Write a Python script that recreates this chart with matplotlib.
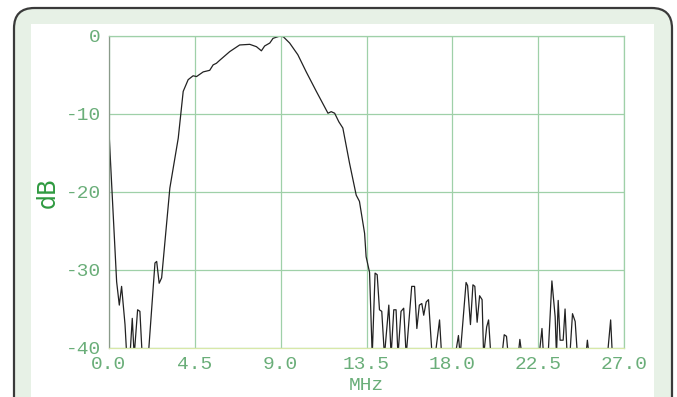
import numpy as np
import matplotlib
matplotlib.use('Agg')
import matplotlib.pyplot as plt
from matplotlib.patches import FancyBboxPatch, Rectangle

# spectrum (MHz, dB); values below -40 are clipped by the axes
freq = [0.0, 0.16, 0.4, 0.54, 0.66, 0.84, 0.93, 1.1, 1.22, 1.32, 1.5, 1.62, 1.74,
        2.06, 2.41, 2.5, 2.63, 2.76, 3.19, 3.63, 3.89, 4.15, 4.41, 4.59, 4.94,
        5.28, 5.46, 5.63, 5.81, 6.33, 6.85, 7.38, 7.73, 7.99, 8.16, 8.43, 8.6,
        8.96, 9.14, 9.47, 9.9, 10.34, 10.87, 11.48, 11.65, 11.83, 12.05, 12.26,
        12.61, 12.96, 13.13, 13.4, 13.48, 13.66, 13.8, 13.95, 14.06, 14.18, 14.3,
        14.44, 14.67, 14.79, 14.93, 15.05, 15.15, 15.31, 15.45, 15.58, 15.87,
        16.02, 16.14, 16.27, 16.4, 16.5, 16.63, 16.75, 16.94, 17.1, 17.33, 17.44,
        18.15, 18.32, 18.41, 18.72, 18.8, 18.95, 19.08, 19.18, 19.3, 19.43, 19.56,
        19.64, 19.8, 19.9, 20.02, 20.6, 20.72, 20.84, 20.93, 21.45, 21.54, 21.65,
        22.55, 22.7, 22.78, 23.02, 23.22, 23.39, 23.46, 23.55, 23.65, 23.81, 23.91,
        24.02, 24.16, 24.3, 24.44, 24.56, 25.0, 25.08, 25.17, 26.13, 26.3, 26.39]
level = [-12.3, -20.0, -31.5, -34.5, -32.1, -37.0, -41, -41, -36.2, -41, -35.1, -35.3, -41,
         -41, -29.1, -28.9, -31.7, -31.0, -19.5, -13.1, -7.1, -5.6, -5.1, -5.2, -4.6,
         -4.4, -3.7, -3.5, -3.1, -2.0, -1.15, -1.07, -1.37, -1.9, -1.28, -0.9, -0.3,
         0.0, -0.1, -0.9, -2.4, -4.6, -7.1, -9.9, -9.7, -9.9, -11.0, -11.8,
         -16.3, -20.4, -21.2, -25.3, -28.3, -30.3, -41, -30.4, -30.6, -35.1, -35.3,
         -41, -34.5, -41, -35.1, -35.1, -41, -35.3, -34.9, -41, -32.1,
         -32.1, -37.5, -34.5, -34.3, -35.8, -34.1, -33.8, -41, -41, -36.4, -41,
         -41, -38.4, -41, -31.6, -32.0, -37.0, -31.9, -32.1, -36.7, -33.3, -33.8,
         -41, -37.3, -36.4, -41, -41, -38.3, -38.5, -41, -41, -38.9, -41,
         -41, -37.5, -41, -41, -31.4, -36.0, -41, -33.9, -39.0, -39.0, -35.0,
         -41, -41, -35.6, -36.6, -41, -41, -39.0, -41, -41, -36.4, -41]

x_ticks = [0.0, 4.5, 9.0, 13.5, 18.0, 22.5, 27.0]
y_ticks = [0, -10, -20, -30, -40]

tick_green = '#6aae79'
grid_green = '#9fd0a8'
mono = 'Liberation Mono'

fig = plt.figure(figsize=(6.77, 3.97), dpi=100)
fig.patch.set_facecolor('white')

# rounded frame and inner white panel, kept behind the axes
frame = FancyBboxPatch((14 / 677, -0.1), 658 / 677, 1 - 8 / 397 + 0.1,
                       boxstyle='round,pad=0,rounding_size=0.03',
                       transform=fig.transFigure, facecolor='#e7f1e6',
                       edgecolor='#3a3a3a', linewidth=1.6, mutation_aspect=677 / 397,
                       zorder=-2)
fig.patches.append(frame)
panel = Rectangle((31 / 677, -0.1), 623 / 677, 1 - 24 / 397 + 0.1,
                  transform=fig.transFigure, facecolor='white', edgecolor='none',
                  zorder=-1)
fig.patches.append(panel)

ax = fig.add_axes([109 / 677, 1 - 348 / 397, 515 / 677, 312 / 397])
ax.set_facecolor('none')
ax.plot(freq, level, color='#222222', linewidth=0.9)
ax.set_xlim(0, 27)
ax.set_ylim(-40, 0)
ax.set_xticks(x_ticks)
ax.set_xticklabels([f'{v:.1f}' for v in x_ticks])
ax.set_yticks(y_ticks)
ax.set_yticklabels([str(v) for v in y_ticks])
ax.grid(True, color=grid_green, linewidth=0.9)
ax.tick_params(length=0, labelsize=14, labelcolor=tick_green, pad=6)
for lbl in ax.get_xticklabels() + ax.get_yticklabels():
    lbl.set_fontfamily(mono)
for side in ['top', 'right']:
    ax.spines[side].set_color(grid_green)
    ax.spines[side].set_linewidth(0.9)
ax.spines['left'].set_color('#8a9a8a')
ax.spines['bottom'].set_color('#d8e8a8')
ax.spines['left'].set_linewidth(0.9)
ax.spines['bottom'].set_linewidth(0.9)

ax.set_xlabel('MHz', fontsize=14, color=tick_green, family=mono, labelpad=3)
ax.set_ylabel('dB', fontsize=17, color='#2f9a40', family='DejaVu Sans', labelpad=4)

plt.savefig('out.png', dpi=100)
